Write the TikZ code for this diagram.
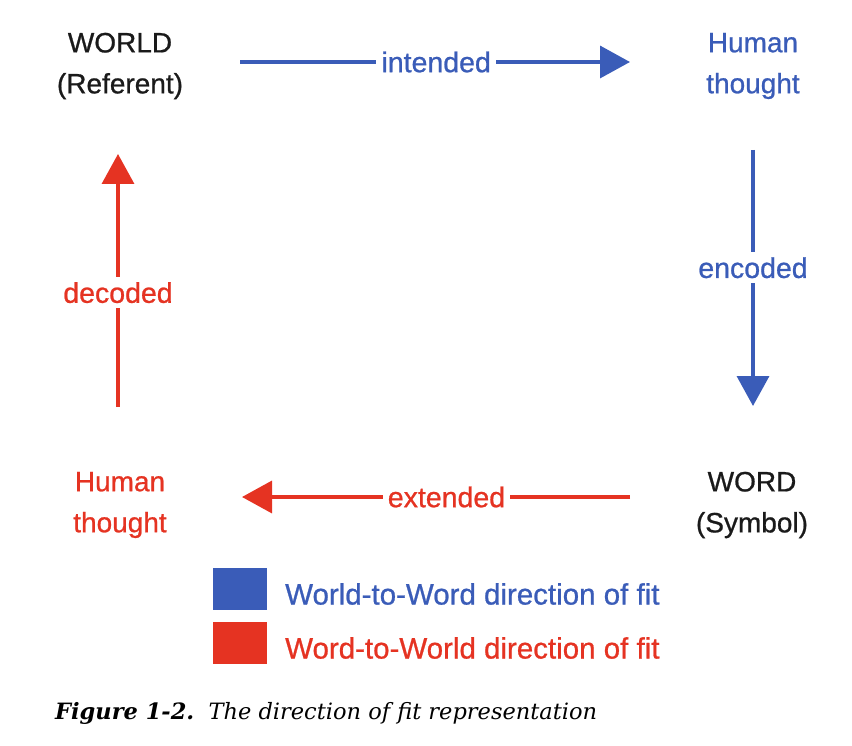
\documentclass[tikz,border=0pt]{standalone}
\usepackage{fontspec}
\setmainfont[FakeBold=0.8]{Liberation Sans}
\newfontfamily\capfont{DejaVu Serif}
\usetikzlibrary{arrows.meta}
\definecolor{fitblue}{HTML}{3A5CB8}
\definecolor{fitred}{HTML}{E53322}
\definecolor{labgray}{HTML}{1A1A1A}
\begin{document}
\begin{tikzpicture}[x=1pt,y=-1pt,
  lbl/.style={font=\fontsize{28}{41}\selectfont, align=center, inner sep=0pt},
  flow/.style={line width=3.5pt, -{Triangle[length=30pt,width=32pt]}},
  cut/.style={fill=white, inner sep=5pt, font=\fontsize{28.5}{34}\selectfont},
  legtxt/.style={font=\fontsize{29.5}{34}\selectfont, anchor=west, inner sep=0pt}]
\useasboundingbox (0,0) rectangle (852,746);
% corner labels
\node[lbl, text=labgray] (world) at (120,66) {WORLD\\(Referent)};
\node[lbl, text=fitblue] (hthb) at (753,66) {Human\\thought};
\node[lbl, text=labgray] (word) at (752,505) {WORD\\(Symbol)};
\node[lbl, text=fitred] (hthr) at (120,505) {Human\\thought};
% arrow ends
\coordinate (a1) at (240,62);  \coordinate (b1) at (630,62);
\coordinate (a2) at (753,150); \coordinate (b2) at (753,406);
\coordinate (a3) at (630,497); \coordinate (b3) at (242,497);
\coordinate (a4) at (118,407); \coordinate (b4) at (118,154);
\draw[flow, fitblue] (a1) -- node[cut, text=fitblue, pos=0.503] (lint) {intended} (b1);
\draw[flow, fitblue] (a2) -- node[cut, text=fitblue, pos=0.46] (lenc) {encoded} (b2);
\draw[flow, fitred] (a3) -- node[cut, text=fitred, pos=0.473] (lext) {extended} (b3);
\draw[flow, fitred] (a4) -- node[cut, text=fitred, pos=0.452] (ldec) {decoded} (b4);
% legend
\node[fill=fitblue, minimum width=54pt, minimum height=42pt, inner sep=0pt] (sqb) at (240,589) {};
\node[fill=fitred, minimum width=54pt, minimum height=42pt, inner sep=0pt] (sqr) at (240,643) {};
\node[legtxt, text=fitblue] (legb) at (285,594) {World-to-Word direction of fit};
\node[legtxt, text=fitred] (legr) at (285,648) {Word-to-World direction of fit};
% caption
\node[anchor=west, inner sep=0pt, font=\capfont\itshape\fontsize{22.5}{28}\selectfont] (cap) at (55,713) {\textbf{Figure 1-2.}\ \ The direction of fit representation};
\end{tikzpicture}
\end{document}
